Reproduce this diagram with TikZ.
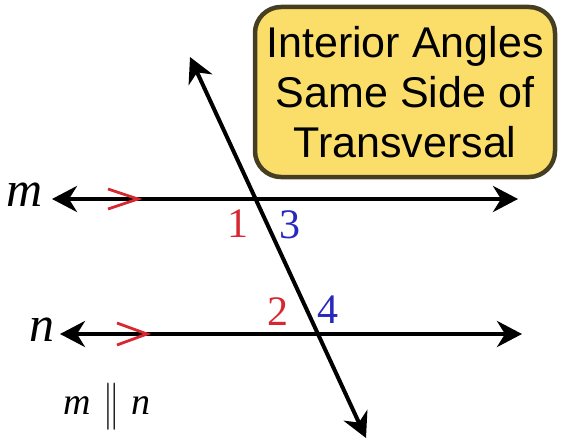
\documentclass[tikz,border=0pt]{standalone}
\usepackage{fontspec}
\usepackage{graphicx}
\setmainfont{Liberation Serif}
\newfontfamily\boxfont{Liberation Sans}
\usetikzlibrary{arrows.meta,calc}
\definecolor{boxfill}{RGB}{250,222,105}
\definecolor{boxedge}{RGB}{70,62,35}
\definecolor{angred}{RGB}{215,40,50}
\definecolor{angblue}{RGB}{40,40,190}
\tikzset{
  tip/.tip={Stealth[length=25pt,width=26pt,inset=8pt]},
  lineb/.style={line width=4pt, black, tip-tip},
  chev/.style={line width=2.8pt, angred, line join=miter},
  lbl/.style={font=\fontsize{42}{42}\selectfont, inner sep=0pt},
  letter/.style={font=\fontsize{50}{50}\selectfont\itshape, inner sep=0pt},
  titlebox/.style={draw=boxedge, line width=4.5pt, fill=boxfill, rounded corners=26pt}
}
\begin{document}
\begin{tikzpicture}[x=1pt,y=-1pt]
\useasboundingbox (0,0) rectangle (561,441);
% title box
\node[titlebox, minimum width=300pt, minimum height=170pt, align=center,
  font=\boxfont\fontsize{43}{50}\selectfont] (title) at (405,92)
  {Interior Angles\\Same Side of\\Transversal};
% lines
\coordinate (mL) at (52,199);
\coordinate (mR) at (518,199);
\coordinate (nL) at (60,334);
\coordinate (nR) at (522,334);
\coordinate (tT) at (190,57);
\coordinate (tB) at (366,438);
\draw[lineb] (mL) -- (mR);
\draw[lineb] (nL) -- (nR);
\draw[lineb] (tT) -- (tB);
% parallel chevrons
\coordinate (c1) at (138,199);
\coordinate (c2) at (147,334);
\draw[chev] ($(c1)+(-30,-10)$) -- (c1) -- ($(c1)+(-30,10)$);
\draw[chev] ($(c2)+(-30,-11)$) -- (c2) -- ($(c2)+(-30,11)$);
% labels
\node[letter] (m) at (25,195) {m};
\node[letter] (n) at (42,330) {n};
\node[lbl, angred] (a1) at (238,224) {1};
\node[lbl, angblue] (a3) at (290,225) {3};
\node[lbl, angred] (a2) at (278,312) {2};
\node[lbl, angblue] (a4) at (328,310) {4};
\node[inner sep=0pt, font=\fontsize{38}{38}\selectfont] (par) at (107,407) {\itshape m\,\,\raisebox{-0.12em}{\scalebox{1.3}[1.9]{$\|$}}\,\,\itshape n};
\end{tikzpicture}
\end{document}
